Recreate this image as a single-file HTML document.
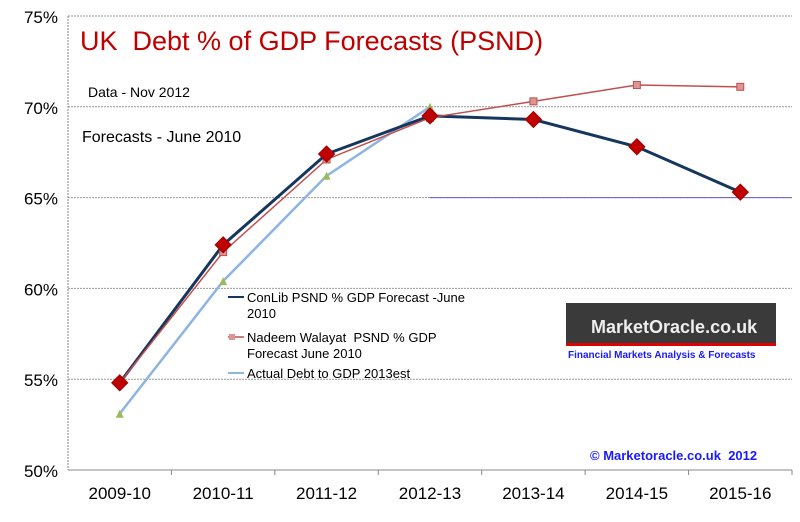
<!DOCTYPE html>
<html><head><meta charset="utf-8"><style>
body{margin:0;background:#fff;}
svg text{font-family:"Liberation Sans",sans-serif;white-space:pre;}
</style></head><body>
<svg id="c" width="800" height="517" xmlns="http://www.w3.org/2000/svg"></svg>
<script>
const categories=["2009-10","2010-11","2011-12","2012-13","2013-14","2014-15","2015-16"];
const conlib=[54.8,62.4,67.4,69.5,69.3,67.8,65.3];
const nadeem=[54.8,62.0,67.1,69.4,70.3,71.2,71.1];
const actual=[53.1,60.4,66.2,70.0];
const yTicks=[50,55,60,65,70,75];
const yTickLabels=["50%","55%","60%","65%","70%","75%"];
const L=68,R=792,T=16,B=470,yMin=50,yMax=75;
const svg=document.getElementById('c');
const NS='http://www.w3.org/2000/svg';
const bw=(R-L)/categories.length;
function x(i){return L+bw*(i+0.5);}
function y(v){return B-(v-yMin)/(yMax-yMin)*(B-T);}
function mk(tag,attrs,name,txt){const e=document.createElementNS(NS,tag);for(const k in attrs)e.setAttribute(k,attrs[k]);


if(txt!==undefined)e.textContent=txt;svg.appendChild(e);return e;}
yTicks.forEach((t,i)=>{
 mk('line',{x1:L,x2:R,y1:y(t),y2:y(t),stroke:'#999','stroke-dasharray':'2,1','stroke-width':1},'gridline');
 mk('text',{x:L-10,y:y(t)+7,'text-anchor':'end','font-size':17,fill:'#000'},'y-tick-label',yTickLabels[i]);
});
mk('line',{x1:x(3),x2:R,y1:y(65),y2:y(65),stroke:'#6a5acd','stroke-width':1},'reference-line-65');
mk('line',{x1:L,x2:L,y1:T,y2:B,stroke:'#888','stroke-dasharray':'2,1'},'y-axis');
mk('line',{x1:L,x2:R,y1:B,y2:B,stroke:'#888'},'x-axis');
categories.forEach((c,i)=>{
 mk('line',{x1:L+bw*(i+1),x2:L+bw*(i+1),y1:B,y2:B+5,stroke:'#888'},'x-tick');
 mk('text',{x:x(i),y:B+29,'text-anchor':'middle','font-size':17,fill:'#000'},'x-tick-label',c);
});
function line(vals,color,w,name){mk('polyline',{points:vals.map((v,i)=>x(i)+','+y(v)).join(' '),fill:'none',stroke:color,'stroke-width':w},name);}
line(actual,'#8eb4e3',2.5,'actual-line');
line(conlib,'#17365d',3,'conlib-line');
line(nadeem,'#c0504d',1.5,'nadeem-line');
actual.forEach((v,i)=>{const cx=x(i),cy=y(v);mk('polygon',{points:`${cx-4},${cy+4} ${cx+4},${cy+4} ${cx},${cy-4}`,fill:'#9bbb59'},'actual-point');});
nadeem.forEach((v,i)=>{mk('rect',{x:x(i)-3.5,y:y(v)-3.5,width:7,height:7,fill:'#d99694',stroke:'#c0504d'},'nadeem-point');});
conlib.forEach((v,i)=>{const cx=x(i),cy=y(v);mk('polygon',{points:`${cx},${cy-8} ${cx+8},${cy} ${cx},${cy+8} ${cx-8},${cy}`,fill:'#c00000',stroke:'#a00000'},'conlib-point');});
mk('text',{x:80,y:50,'font-size':27,fill:'#c00000'},'chart-title','UK  Debt % of GDP Forecasts (PSND)');
mk('text',{x:88,y:97,'font-size':14,fill:'#000'},'data-note','Data - Nov 2012');
mk('text',{x:82,y:142,'font-size':16,fill:'#000'},'forecast-note','Forecasts - June 2010');
mk('line',{x1:228,x2:244,y1:297,y2:297,stroke:'#17365d','stroke-width':2},'legend-conlib-swatch');
mk('text',{x:247,y:302,'font-size':13},'legend-conlib','ConLib PSND % GDP Forecast -June');
mk('text',{x:247,y:318,'font-size':13},'legend-conlib-2','2010');
mk('line',{x1:228,x2:244,y1:337,y2:337,stroke:'#c0504d','stroke-width':1.5},'legend-nadeem-swatch');
mk('rect',{x:229,y:334,width:6,height:6,fill:'#d99694'},'legend-nadeem-marker');
mk('text',{x:247,y:342,'font-size':13},'legend-nadeem','Nadeem Walayat  PSND % GDP');
mk('text',{x:247,y:358,'font-size':13},'legend-nadeem-2','Forecast June 2010');
mk('line',{x1:228,x2:244,y1:373,y2:373,stroke:'#8eb4e3','stroke-width':2},'legend-actual-swatch');
mk('text',{x:247,y:378,'font-size':13},'legend-actual','Actual Debt to GDP 2013est');
mk('rect',{x:566,y:303,width:210,height:40,fill:'#3a3a3a'},'logo-box');
mk('rect',{x:566,y:343,width:210,height:3,fill:'#e00000'},'logo-redline');
mk('text',{x:591,y:333,'font-size':18,'font-weight':'bold',fill:'#eee'},'logo-text','MarketOracle.co.uk');
mk('text',{x:568,y:358,'font-size':10,'font-weight':'bold',fill:'#1a1aff'},'logo-tagline','Financial Markets Analysis & Forecasts');
mk('text',{x:590,y:460,'font-size':13,'font-weight':'bold',fill:'#1a1aff'},'copyright','© Marketoracle.co.uk  2012');
</script>
</body></html>
